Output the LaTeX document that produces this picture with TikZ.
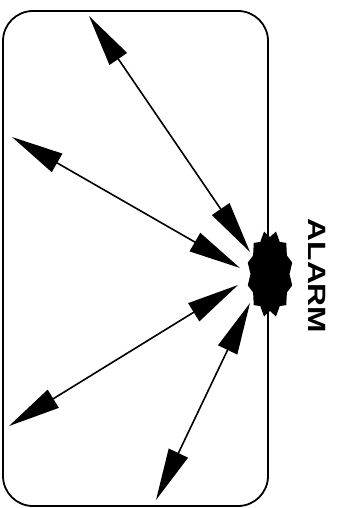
\documentclass[tikz,border=0pt]{standalone}
\usepackage{fontspec}
\setsansfont{Liberation Sans}
\usetikzlibrary{arrows.meta, shapes.geometric}

\begin{document}
\begin{tikzpicture}[x=1pt, y=-1pt,
        panel/.style={draw, line width=1.8pt, rounded corners=30pt},
        dblarrow/.style={{Triangle[length=52pt,width=21pt]}-{Triangle[length=52pt,width=21pt]}, line width=1.6pt},
        alarmtext/.style={font=\sffamily\bfseries\fontsize{25}{25}\selectfont, rotate=-90, inner sep=0pt}
    ]
        \useasboundingbox (0,0) rectangle (341,508);

        % Frame
        \draw[panel] (3,11) rectangle (268,506);

        % Alarm burst on the right edge
        \node[ellipse, minimum width=46pt, minimum height=88pt, inner sep=0pt] (burst) at (270,274) {};
        \fill[shift={(burst.center)}] (15:23 and 44)
            \foreach \a in {30,60,...,360} { -- (\a:19.5 and 37) -- (\a+15:23 and 44) } -- cycle;
        \node[alarmtext] (alarm) at (317,276) {\scalebox{1.27}[1]{ALARM}};

        % Arrow ends
        \coordinate (a1) at (89,16);   \coordinate (b1) at (250,252);
        \coordinate (a2) at (12,137);  \coordinate (b2) at (240,268);
        \coordinate (a3) at (9,426);   \coordinate (b3) at (238,285);
        \coordinate (a4) at (156,500); \coordinate (b4) at (250,303);

        % Double arrows
        \draw[dblarrow] (a1) -- (b1);
        \draw[dblarrow] (a2) -- (b2);
        \draw[dblarrow] (a3) -- (b3);
        \draw[dblarrow] (a4) -- (b4);
    \end{tikzpicture}
\end{document}
